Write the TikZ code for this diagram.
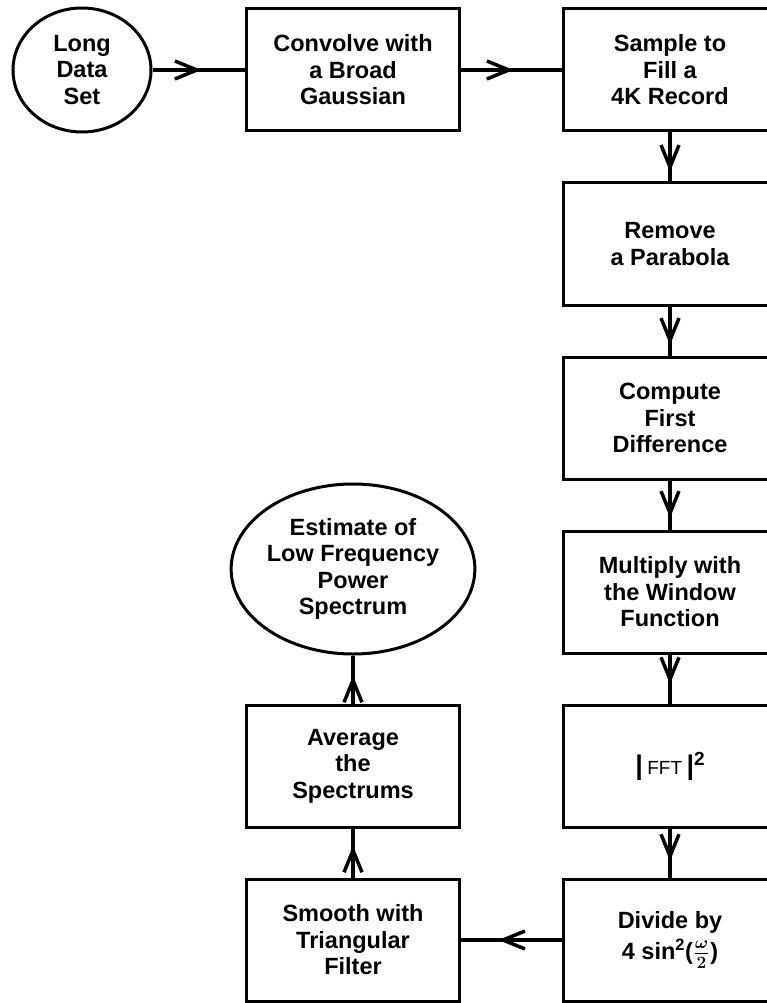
\documentclass[tikz,border=0pt]{standalone}
\usepackage{fontspec}
\setmainfont{Liberation Sans}
\usetikzlibrary{positioning,shapes.geometric,arrows.meta,decorations.markings}

\begin{document}
\begin{tikzpicture}[
    on grid,x=1pt,y=1pt,
    coldist/.style={node distance=174pt},
    procbox/.style={draw,line width=3pt,minimum width=213pt,minimum height=122pt},
    endpoint/.style={draw,ellipse,line width=3pt},
    flow/.style={line width=3.5pt,postaction={decorate},
        decoration={markings,mark=at position #1 with {\arrow{Straight Barb[length=22pt,width=18pt]}}}},
    flow/.default=0.6,
    every node/.style={align=center,inner sep=0pt,font=\bfseries\fontsize{23.5}{26.5}\selectfont}
]
    \useasboundingbox (0,0) rectangle (767,-1003);
    \clip (0,0) rectangle (767,-1003);
    %Top row
    \node[endpoint,minimum width=138pt,minimum height=124pt] (data) at (82,-70) {Long\\Data\\Set};
    \node[procbox,right=271pt of data] (conv) {Convolve with\\a Broad\\Gaussian};
    \node[procbox,right=317pt of conv] (sample) {Sample to\\Fill a\\4K Record};
    \draw[flow=0.53] (data) -- (conv);
    \draw[flow=0.52] (conv) -- (sample);
    %Right column
    \node[procbox,coldist,below=of sample] (remove) {Remove\\a Parabola};
    \node[procbox,coldist,below=of remove] (diff) {Compute\\First\\Difference};
    \node[procbox,coldist,below=of diff] (window) {Multiply with\\the Window\\Function};
    \node[procbox,coldist,below=of window] (fft) {\fontsize{27}{27}\selectfont\textbar\,{\mdseries\fontsize{19}{19}\selectfont FFT}\,\textbar\raisebox{9pt}{\fontsize{19}{19}\selectfont 2}};
    \node[procbox,coldist,below=of fft] (divide) {Divide by\\[4pt]4 sin\textsuperscript{2}(\kern1pt{\boldmath$\frac{\omega}{2}$}\kern1pt)};
    \draw[flow=0.8] (sample) -- (remove);
    \draw[flow=0.78] (remove) -- (diff);
    \draw[flow=0.76] (diff) -- (window);
    \draw[flow=0.6] (window) -- (fft);
    \draw[flow=0.66] (fft) -- (divide);
    %Left column
    \node[procbox,left=317pt of divide] (smooth) {Smooth with\\Triangular\\Filter};
    \node[procbox,coldist,above=of smooth] (average) {Average\\the\\Spectrums};
    \node[endpoint,minimum width=234pt,minimum height=170pt,above=197pt of average] (estimate) {Estimate of\\Low Frequency\\Power\\Spectrum};
    \draw[flow=0.63] (divide) -- (smooth);
    \draw[flow=0.65] (smooth) -- (average);
    \draw[flow=0.58] (average) -- (estimate);
\end{tikzpicture}
\end{document}
